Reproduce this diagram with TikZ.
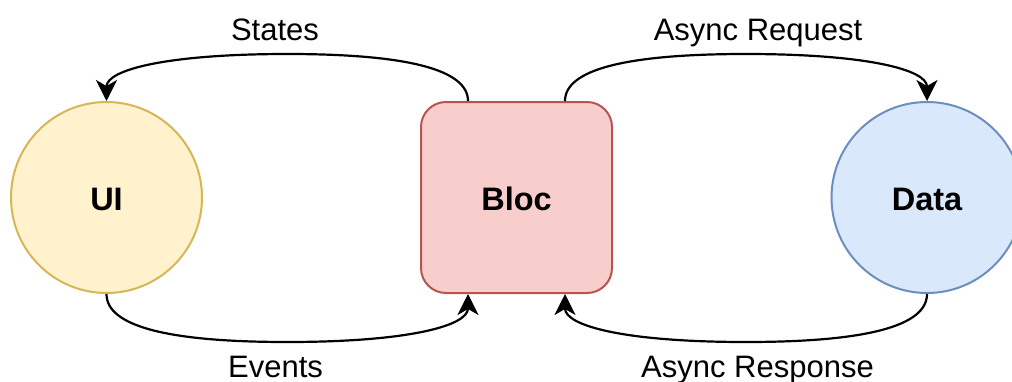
\documentclass[tikz,border=0pt]{standalone}
\usepackage{fontspec}
\setmainfont{Liberation Sans}
\usetikzlibrary{arrows.meta,calc}

\definecolor{uiFill}{HTML}{FFF2CC}
\definecolor{uiLine}{HTML}{D6B656}
\definecolor{blocFill}{HTML}{F8CECC}
\definecolor{blocLine}{HTML}{B85450}
\definecolor{dataFill}{HTML}{DAE8FC}
\definecolor{dataLine}{HTML}{6C8EBF}

\tikzset{
  part/.style={line width=2pt, inner sep=0pt,
    font=\fontsize{32.5}{39}\selectfont\bfseries,
    text height=26pt, text depth=0pt},
  roundpart/.style={part, circle, minimum size=191pt},
  boxpart/.style={part, rectangle, rounded corners=25pt,
    minimum width=191pt, minimum height=191pt},
  flow/.style={line width=2.2pt, -{Stealth[length=21pt,width=21pt,inset=6pt]}},
  lbl/.style={font=\fontsize{31}{37}\selectfont, inner sep=0pt, anchor=base},
}

\begin{document}
\begin{tikzpicture}[x=1pt,y=-1pt]
\clip (0,0) rectangle (1012,381);

% the three parts of the pattern
\node[roundpart, fill=uiFill, draw=uiLine] (ui) at (106.5,197.5) {UI};
\node[boxpart, fill=blocFill, draw=blocLine] (bloc) at (516.5,197.5) {Bloc};
\node[roundpart, fill=dataFill, draw=dataLine] (data) at (927,197.5) {Data};

% ports on the top and bottom of the bloc
\coordinate (bTL) at ($(bloc.north)+(-48.5,0)$);
\coordinate (bTR) at ($(bloc.north)+(48.5,0)$);
\coordinate (bBL) at ($(bloc.south)+(-48.5,0)$);
\coordinate (bBR) at ($(bloc.south)+(48.5,0)$);

% apex points of the curved connectors
\coordinate (mStates) at ($(bTL)!0.5!(ui.north)+(0,-47)$);
\coordinate (mReq) at ($(bTR)!0.5!(data.north)+(0,-47)$);
\coordinate (mEvents) at ($(ui.south)!0.5!(bBL)+(0,48)$);
\coordinate (mResp) at ($(data.south)!0.5!(bBR)+(0,48)$);

% States: bloc -> ui
\draw[flow] (bTL) .. controls ($(bTL)+(0,-31.3)$) and ($(mStates)+(120.3,0)$) .. (mStates)
  .. controls ($(mStates)+(-120.3,0)$) and ($(ui.north)+(0,-31.3)$) .. (ui.north);

% Async Request: bloc -> data
\draw[flow] (bTR) .. controls ($(bTR)+(0,-31.3)$) and ($(mReq)+(-120.7,0)$) .. (mReq)
  .. controls ($(mReq)+(120.7,0)$) and ($(data.north)+(0,-31.3)$) .. (data.north);

% Events: ui -> bloc
\draw[flow] (ui.south) .. controls ($(ui.south)+(0,32)$) and ($(mEvents)+(-120.3,0)$) .. (mEvents)
  .. controls ($(mEvents)+(120.3,0)$) and ($(bBL)+(0,32)$) .. (bBL);

% Async Response: data -> bloc
\draw[flow] (data.south) .. controls ($(data.south)+(0,32)$) and ($(mResp)+(120.7,0)$) .. (mResp)
  .. controls ($(mResp)+(-120.7,0)$) and ($(bBR)+(0,32)$) .. (bBR);

% connector labels
\node[lbl] (tStates) at (275,40) {States};
\node[lbl] (tReq) at (758,40) {Async Request};
\node[lbl] (tEvents) at (275.5,377) {Events};
\node[lbl] (tResp) at (757.5,377) {Async Response};
\end{tikzpicture}
\end{document}
